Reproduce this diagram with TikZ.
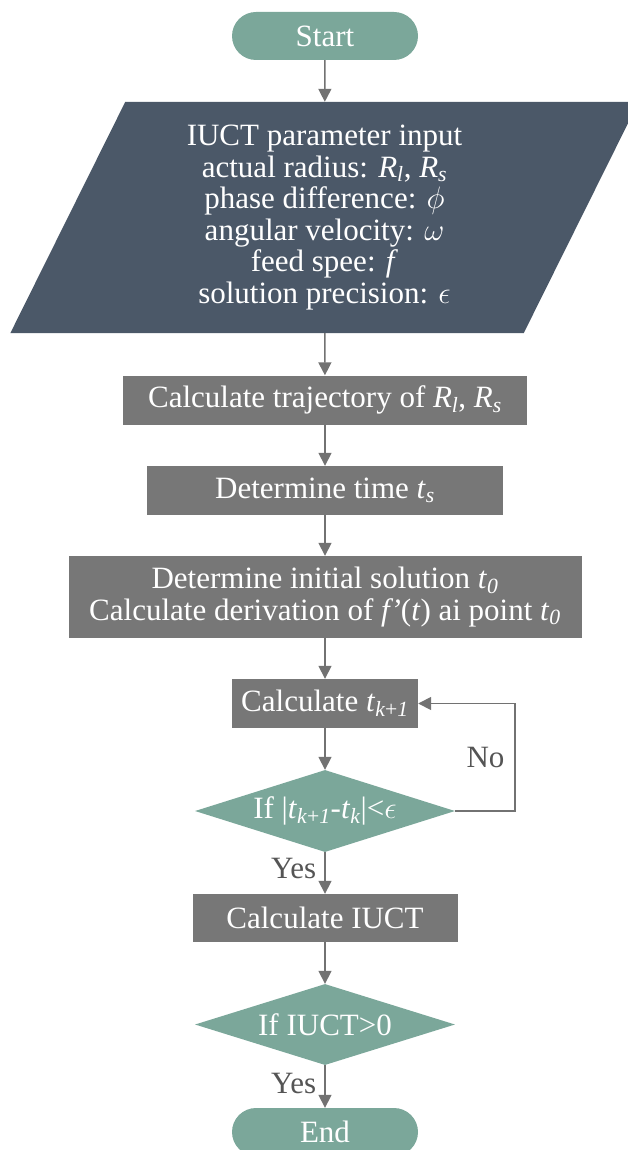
\documentclass[tikz,border=0pt]{standalone}
\usepackage{fix-cm}
\usepackage{fontspec}
\setmainfont{Liberation Serif}
\usetikzlibrary{arrows.meta,shapes.geometric,backgrounds}
\definecolor{tealfill}{HTML}{7BA79A}
\definecolor{slate}{HTML}{4B5868}
\definecolor{boxgray}{HTML}{777777}
\definecolor{arrowgray}{HTML}{727272}
\definecolor{lblgray}{HTML}{555555}

\begin{document}
\begin{tikzpicture}[x=1pt,y=-1pt,>={Triangle[width=13pt,length=13pt]},font=\fontsize{31pt}{31.5pt}\selectfont]
\tikzstyle{term}=[fill=tealfill,text=white,rounded corners=24pt,minimum width=186pt,minimum height=48pt,inner sep=0pt]
\tikzstyle{proc}=[fill=boxgray,text=white,align=center,inner sep=0pt]
\tikzstyle{dec}=[diamond,fill=tealfill,text=white,aspect=3.17,inner sep=0pt,minimum width=260pt,minimum height=82pt]
\tikzstyle{lbl}=[text=lblgray,inner sep=0pt]
\tikzstyle{conn}=[->,draw=arrowgray,line width=1.6pt]
\useasboundingbox (0,0) rectangle (627,1150);
\node[term] (start) at (325,36) {Start};
\node[align=center,text=white,inner sep=0pt,minimum width=513pt,minimum height=231pt] (inp) at (324.5,217.5) {IUCT parameter input\\actual radius: \textit{R}\textsubscript{\textit{l}}, \textit{R}\textsubscript{\textit{s}}\\phase difference: $\phi$\\angular velocity: $\omega$\\feed spee: \textit{f}\\solution precision: $\epsilon$};
\begin{scope}[on background layer]
\fill[slate] ([xshift=57.5pt]inp.north west) -- ([xshift=57.5pt]inp.north east) -- ([xshift=-57.5pt]inp.south east) -- ([xshift=-57.5pt]inp.south west) -- cycle;
\end{scope}
\node[proc,minimum width=404pt,minimum height=49pt] (traj) at (325,400) {Calculate trajectory of \textit{R}\textsubscript{\textit{l}}, \textit{R}\textsubscript{\textit{s}}};
\node[proc,minimum width=356pt,minimum height=49pt] (ts) at (325,490.5) {Determine time \textit{t}\textsubscript{\textit{s}}};
\node[proc,minimum width=513pt,minimum height=82pt] (init) at (325,597) {Determine initial solution \textit{t}\textsubscript{\textit{0}}\\Calculate derivation of \textit{f\kern1pt'}(\textit{t}) ai point \textit{t}\textsubscript{\textit{0}}};
\node[proc,minimum width=186pt,minimum height=49pt] (calc) at (325,703.5) {Calculate \textit{t}\textsubscript{\textit{k}+\textit{1}}};
\node[dec] (cond) at (325,811) {If |\textit{t}\textsubscript{\textit{k}+\textit{1}}-\textit{t}\textsubscript{\textit{k}}|<$\epsilon$};
\node[proc,minimum width=265pt,minimum height=48pt] (iuct) at (325,918) {Calculate IUCT};
\node[dec,minimum height=81pt] (pos) at (325,1024.5) {If IUCT>0};
\node[term] (stop) at (325,1132) {End};
% connectors
\foreach \a/\b in {start/inp,inp/traj,traj/ts,ts/init,init/calc,calc/cond,iuct/pos} \draw[conn] (\a) -- (\b);
\draw[conn] (cond) -- node[lbl,pos=0.38,left=8pt] (yes1) {Yes} (iuct);
\draw[conn] (pos) -- node[lbl,pos=0.42,left=8pt] (yes2) {Yes} (stop);
\draw[conn] (cond.east) -- ++(60,0) |- node[lbl,pos=0.25,left=10pt] (no) {No} (calc.east);
\end{tikzpicture}
\end{document}
